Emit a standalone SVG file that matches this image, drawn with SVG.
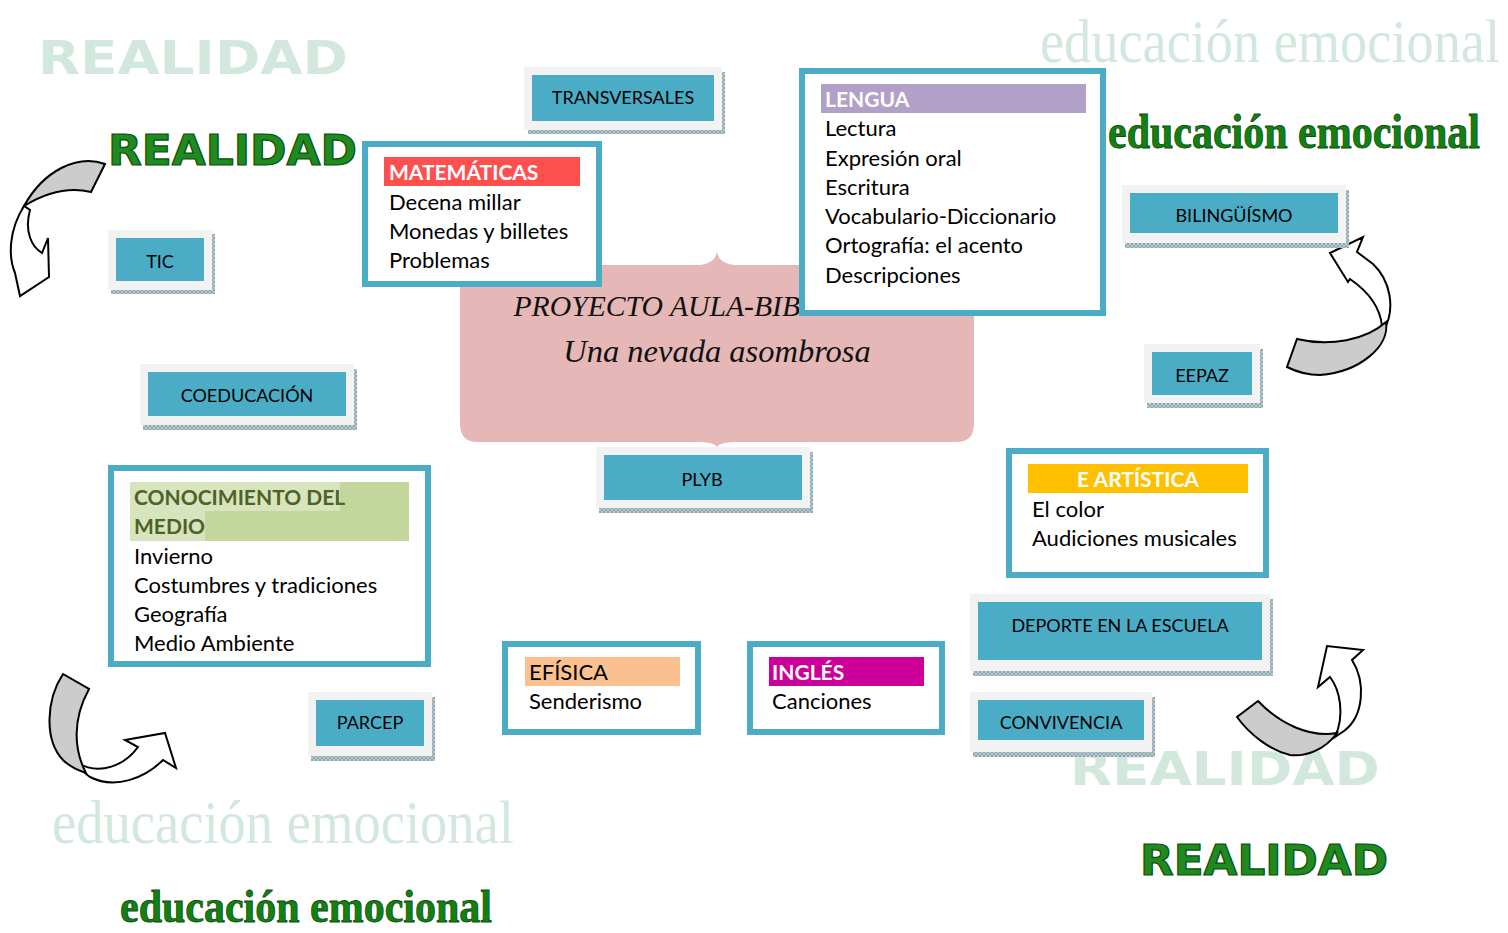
<svg xmlns="http://www.w3.org/2000/svg" width="1508" height="933" viewBox="0 0 1508 933">
<defs>
<pattern id="hatch" width="4" height="4" patternUnits="userSpaceOnUse"><rect width="4" height="4" fill="#b9cbd1"/><path d="M0,0 L4,4 M4,0 L0,4" stroke="#7d98a1" stroke-width="0.7"/></pattern>
<style>
.sh{fill:url(#hatch)}
.fr{fill:#f2f2f2}
.bl{fill:#4bacc6}
.bt{font-family:Lato,"Liberation Sans",sans-serif;font-size:18px;fill:#000;text-anchor:middle}
.box{fill:#fff;stroke:#4bacc6;stroke-width:6}
.ct{font-family:Lato,"Liberation Sans",sans-serif;font-size:22px;fill:#000}
.hd{font-family:Lato,"Liberation Sans",sans-serif;font-size:21px;font-weight:bold;fill:#fff}
.fadeR{font-family:"DejaVu Sans",sans-serif;font-size:46px;font-weight:bold;fill:#d3e8dc}
.greenR{font-family:"DejaVu Sans",sans-serif;font-size:42px;font-weight:bold;fill:#1f8a1f;stroke:#0b4f0b;stroke-width:1.2}
.fadeE{font-family:"Liberation Serif",serif;font-size:55px;fill:#d3e8dc}
.greenE{font-family:"Liberation Serif",serif;font-size:39px;font-weight:bold;fill:#138013;stroke:#0b4f0b;stroke-width:0.7}
.arr{stroke:#000;stroke-width:2;stroke-linejoin:miter}
.title{font-family:"Liberation Serif",serif;font-style:italic;fill:#111;text-anchor:middle}
</style>
</defs>

<!-- decorative texts -->
<g id="deco">
<text class="fadeR" x="38" y="74" textLength="310" lengthAdjust="spacingAndGlyphs">REALIDAD</text>
<text class="fadeE" transform="translate(1040,62) scale(1,1.13)" x="0" y="0" textLength="460" lengthAdjust="spacingAndGlyphs">educación emocional</text>
<text class="fadeE" transform="translate(52,843) scale(1,1.13)" x="0" y="0" textLength="462" lengthAdjust="spacingAndGlyphs">educación emocional</text>
<text class="fadeR" x="1070" y="785" textLength="310" lengthAdjust="spacingAndGlyphs">REALIDAD</text>
<text class="greenR" x="108" y="165" textLength="249" lengthAdjust="spacingAndGlyphs">REALIDAD</text>
<text class="greenR" x="1140" y="875" textLength="248" lengthAdjust="spacingAndGlyphs">REALIDAD</text>
<text class="greenE" transform="translate(1108,148) scale(1,1.25)" x="0" y="0" textLength="372" lengthAdjust="spacingAndGlyphs">educación emocional</text>
<text class="greenE" transform="translate(120,922) scale(1,1.2)" x="0" y="0" textLength="372" lengthAdjust="spacingAndGlyphs">educación emocional</text>
</g>

<!-- central callout -->
<g id="proyecto">
<path d="M478,265 L700,265 Q717,263 717,250 Q717,263 734,265 L956,265 Q974,265 974,283 L974,424 Q974,442 956,442 L734,442 Q717,443 717,448 Q717,443 700,442 L478,442 Q460,442 460,424 L460,283 Q460,265 478,265 Z" fill="#e5b8b7"/>
<text class="title" x="717" y="316" style="font-size:29.7px">PROYECTO AULA-BIBLIOTECA</text>
<text class="title" x="717" y="362" style="font-size:32.5px">Una nevada asombrosa</text>
</g>

<!-- connectors (curved arrows) -->
<g id="connectors">
<path class="arr" fill="#cccccc" d="M105,164 C78,154 44,170 24,206 C42,195 66,186 91,192 Z"/>
<path class="arr" fill="#fff" d="M24,206 C9,230 8,256 15,273 L20,296 L49,277 L48,238 L42,253 C32,247 24,232 30,210 Z"/>

<path class="arr" fill="#fff" d="M1384,330 C1396,308 1390,280 1373,264 L1357,252 L1363,237 L1330,253 L1348,282 L1350,279 C1366,290 1380,306 1382,326 Z"/>
<path class="arr" fill="#cccccc" d="M1297,339 C1330,347 1366,340 1386,322 C1390,346 1360,372 1320,375 C1305,375 1295,371 1287,367 Z"/>

<path class="arr" fill="#fff" d="M78,763 C100,776 125,765 138,747 L125,740 L165,733 L176,768 L163,760 C145,778 115,790 90,777 C84,773 80,768 78,763 Z"/>
<path class="arr" fill="#cccccc" d="M63,674 C46,700 44,740 63,760 C70,767 77,770 86,773 C74,750 72,720 89,689 Z"/>

<path class="arr" fill="#fff" d="M1335,737 C1345,715 1340,690 1330,677 L1318,687 L1327,646 L1363,650 L1352,660 C1366,682 1364,716 1344,731 Z"/>
<path class="arr" fill="#cccccc" d="M1258,701 C1280,724 1310,738 1337,733 C1325,750 1305,757 1290,755 C1270,750 1250,735 1237,717 Z"/>
</g>

<!-- blue label buttons -->
<g id="transversales"><rect class="sh" x="528" y="72" width="197" height="62"/><rect class="fr" x="524" y="67" width="198" height="63"/><rect class="bl" x="532" y="75" width="182" height="46"/><text class="bt" x="623" y="104">TRANSVERSALES</text></g>
<g id="tic"><rect class="sh" x="111" y="234" width="104" height="60"/><rect class="fr" x="108" y="230" width="104" height="60"/><rect class="bl" x="116" y="238" width="88" height="43"/><text class="bt" x="160" y="268">TIC</text></g>
<g id="coeducacion"><rect class="sh" x="143" y="369" width="214" height="61"/><rect class="fr" x="140" y="364" width="214" height="61"/><rect class="bl" x="148" y="372" width="198" height="44"/><text class="bt" x="247" y="402">COEDUCACIÓN</text></g>
<g id="plyb"><rect class="sh" x="599" y="452" width="214" height="61"/><rect class="fr" x="596" y="447" width="214" height="61"/><rect class="bl" x="604" y="455" width="198" height="45"/><text class="bt" x="702" y="486">PLYB</text></g>
<g id="bilinguismo"><rect class="sh" x="1125" y="190" width="224" height="58"/><rect class="fr" x="1122" y="185" width="224" height="58"/><rect class="bl" x="1130" y="193" width="208" height="40"/><text class="bt" x="1234" y="222">BILINGÜÍSMO</text></g>
<g id="eepaz"><rect class="sh" x="1147" y="349" width="116" height="59"/><rect class="fr" x="1144" y="344" width="116" height="59"/><rect class="bl" x="1152" y="352" width="100" height="43"/><text class="bt" x="1202" y="382">EEPAZ</text></g>
<g id="deporte"><rect class="sh" x="973" y="599" width="300" height="77"/><rect class="fr" x="970" y="594" width="300" height="77"/><rect class="bl" x="978" y="602" width="284" height="58"/><text class="bt" x="1120" y="632">DEPORTE EN LA ESCUELA</text></g>
<g id="convivencia"><rect class="sh" x="973" y="697" width="182" height="60"/><rect class="fr" x="970" y="692" width="182" height="60"/><rect class="bl" x="978" y="700" width="166" height="40"/><text class="bt" x="1061" y="729">CONVIVENCIA</text></g>
<g id="parcep"><rect class="sh" x="311" y="697" width="124" height="64"/><rect class="fr" x="308" y="692" width="124" height="64"/><rect class="bl" x="316" y="700" width="108" height="46"/><text class="bt" x="370" y="729">PARCEP</text></g>

<!-- subject boxes -->
<g id="matematicas">
<rect class="box" x="365" y="144" width="234" height="140"/>
<rect x="384" y="157" width="196" height="29" fill="#ff5050"/>
<text class="hd" x="389" y="180">MATEMÁTICAS</text>
<text class="ct" x="389" y="210">Decena millar</text>
<text class="ct" x="389" y="239">Monedas y billetes</text>
<text class="ct" x="389" y="268">Problemas</text>
</g>

<g id="lengua">
<rect class="box" x="802" y="71" width="301" height="242"/>
<rect x="821" y="84" width="265" height="29" fill="#b1a0c7"/>
<text class="hd" x="825" y="107">LENGUA</text>
<text class="ct" x="825" y="136">Lectura</text>
<text class="ct" x="825" y="166">Expresión oral</text>
<text class="ct" x="825" y="195">Escritura</text>
<text class="ct" x="825" y="224">Vocabulario-Diccionario</text>
<text class="ct" x="825" y="253">Ortografía: el acento</text>
<text class="ct" x="825" y="283">Descripciones</text>
</g>

<g id="conocimiento">
<rect class="box" x="111" y="468" width="317" height="196"/>
<rect x="130" y="482" width="279" height="59" fill="#c3d69b"/>
<rect x="130" y="482" width="210" height="29" fill="#d7e4bd"/>
<rect x="130" y="511" width="75" height="30" fill="#d7e4bd"/>
<text class="hd" x="134" y="505" style="fill:#4f6228">CONOCIMIENTO DEL</text>
<text class="hd" x="134" y="534" style="fill:#4f6228">MEDIO</text>
<text class="ct" x="134" y="564">Invierno</text>
<text class="ct" x="134" y="593">Costumbres y tradiciones</text>
<text class="ct" x="134" y="622">Geografía</text>
<text class="ct" x="134" y="651">Medio Ambiente</text>
</g>

<g id="artistica">
<rect class="box" x="1009" y="451" width="257" height="124"/>
<rect x="1028" y="464" width="220" height="29" fill="#ffc000"/>
<text class="hd" x="1138" y="487" text-anchor="middle">E ARTÍSTICA</text>
<text class="ct" x="1032" y="517">El color</text>
<text class="ct" x="1032" y="546">Audiciones musicales</text>
</g>

<g id="efisica">
<rect class="box" x="505" y="644" width="193" height="88"/>
<rect x="525" y="657" width="155" height="29" fill="#fac090"/>
<text class="ct" x="529" y="680">EFÍSICA</text>
<text class="ct" x="529" y="709">Senderismo</text>
</g>

<g id="ingles">
<rect class="box" x="750" y="644" width="192" height="88"/>
<rect x="769" y="657" width="155" height="29" fill="#cc0099"/>
<text class="hd" x="772" y="680">INGLÉS</text>
<text class="ct" x="772" y="709">Canciones</text>
</g>
</svg>
